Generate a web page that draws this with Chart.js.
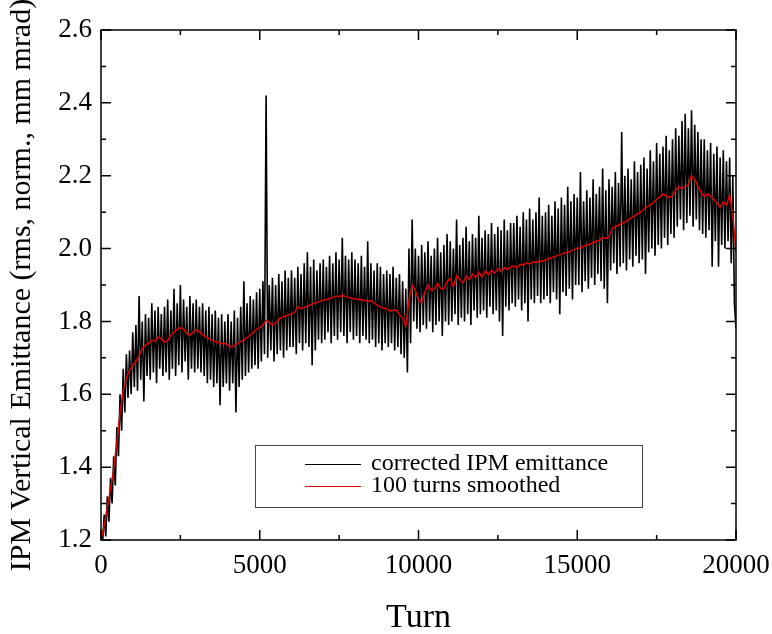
<!DOCTYPE html>
<html>
<head>
<meta charset="utf-8">
<script src="https://cdn.jsdelivr.net/npm/chart.js@4.4.1/dist/chart.umd.min.js"></script>
<style>
  html, body { margin: 0; padding: 0; background: #fff; }
  #wrap { width: 772px; height: 634px; }
</style>
</head>
<body>
<div id="wrap"><canvas id="emitChart" width="772" height="634"></canvas></div>
<script>
// raw IPM emittance, one value every 50 turns (peak / dip pairs)
var rawStep = 50;
var emittance = [
    1.23,1.19, 1.27,1.21, 1.32,1.25, 1.37,1.30, 1.43,1.35, 1.51,1.43, 1.60,1.50, 1.67,1.55, 1.71,1.59, 1.72,1.60,
    1.77,1.62, 1.79,1.61, 1.87,1.64, 1.80,1.58, 1.82,1.65, 1.81,1.64, 1.85,1.66, 1.83,1.63, 1.84,1.67, 1.82,1.65,
    1.84,1.66, 1.86,1.64, 1.83,1.67, 1.89,1.65, 1.85,1.68, 1.90,1.66, 1.86,1.69, 1.84,1.64, 1.87,1.67, 1.85,1.66,
    1.86,1.67, 1.84,1.66, 1.85,1.65, 1.83,1.63, 1.84,1.64, 1.82,1.62, 1.83,1.63, 1.81,1.57, 1.82,1.62, 1.80,1.63,
    1.82,1.61, 1.80,1.63, 1.83,1.55, 1.81,1.62, 1.84,1.64, 1.91,1.65, 1.85,1.66, 1.87,1.67, 1.86,1.68, 1.88,1.67,
    1.89,1.69, 1.91,1.71, 2.42,1.70, 1.90,1.72, 1.92,1.69, 1.90,1.71, 1.93,1.72, 1.91,1.70, 1.94,1.72, 1.92,1.73,
    1.94,1.73, 1.92,1.71, 1.95,1.74, 1.93,1.72, 1.96,1.74, 1.99,1.73, 1.95,1.68, 1.97,1.72, 1.94,1.75, 1.96,1.74,
    1.97,1.75, 1.95,1.77, 1.98,1.74, 1.96,1.76, 1.99,1.75, 1.97,1.77, 2.03,1.76, 1.98,1.74, 1.97,1.77, 1.99,1.75,
    1.97,1.76, 1.96,1.74, 1.98,1.76, 1.95,1.75, 2.02,1.74, 1.96,1.75, 1.94,1.73, 1.96,1.74, 1.95,1.72, 1.93,1.74,
    1.94,1.73, 1.93,1.74, 1.95,1.72, 1.92,1.73, 1.93,1.71, 1.91,1.70, 1.89,1.66, 2.00,1.74, 2.08,1.80, 2.00,1.78,
    1.98,1.77, 2.01,1.79, 1.99,1.78, 2.02,1.80, 1.98,1.77, 2.00,1.79, 2.03,1.80, 1.99,1.76, 2.01,1.80, 2.04,1.79,
    2.02,1.80, 2.00,1.82, 2.08,1.79, 2.01,1.81, 2.03,1.80, 2.06,1.82, 2.02,1.79, 2.04,1.83, 2.03,1.81, 2.09,1.82,
    2.03,1.83, 2.05,1.81, 2.04,1.84, 2.07,1.82, 2.04,1.83, 2.06,1.80, 2.05,1.76, 2.08,1.84, 2.05,1.83, 2.07,1.85,
    2.07,1.84, 2.09,1.86, 2.06,1.83, 2.10,1.85, 2.08,1.80, 2.11,1.86, 2.08,1.85, 2.10,1.87, 2.14,1.85, 2.09,1.86,
    2.10,1.87, 2.12,1.85, 2.09,1.88, 2.13,1.86, 2.11,1.82, 2.14,1.88, 2.12,1.87, 2.17,1.89, 2.13,1.86, 2.15,1.90,
    2.14,1.90, 2.21,1.88, 2.13,1.91, 2.16,1.89, 2.14,1.92, 2.19,1.90, 2.15,1.93, 2.17,1.91, 2.22,1.89, 2.16,1.85,
    2.19,1.94, 2.17,1.96, 2.21,1.93, 2.18,1.95, 2.32,1.96, 2.20,1.94, 2.22,1.97, 2.19,1.95, 2.24,1.98, 2.21,1.96,
    2.23,1.97, 2.25,1.93, 2.22,1.99, 2.27,2.00, 2.24,1.98, 2.29,2.01, 2.26,2.00, 2.28,2.03, 2.31,2.01, 2.27,2.04,
    2.30,2.03, 2.33,2.06, 2.31,2.08, 2.35,2.05, 2.37,2.07, 2.33,2.09, 2.38,2.06, 2.34,2.08, 2.32,2.05, 2.30,2.04,
    2.30,2.03, 2.27,2.05, 2.29,1.95, 2.26,2.02, 2.28,1.95, 2.25,2.01, 2.27,2.00, 2.24,2.02, 2.25,1.96, 2.20,1.85,
    1.78
];

// 100 turns smoothed, one value every 100 turns
var smoothStep = 100;
var smoothed = [
    1.20, 1.24, 1.29, 1.34, 1.395, 1.47, 1.55, 1.61, 1.645, 1.665,
    1.68, 1.69, 1.705, 1.725, 1.735, 1.74, 1.748, 1.745, 1.757, 1.752,
    1.743, 1.748, 1.762, 1.771, 1.778, 1.783, 1.778, 1.768, 1.762, 1.77,
    1.777, 1.772, 1.764, 1.758, 1.753, 1.748, 1.745, 1.742, 1.739, 1.74,
    1.735, 1.73, 1.733, 1.74, 1.745, 1.748, 1.756, 1.762, 1.77, 1.778,
    1.782, 1.79, 1.803, 1.798, 1.79, 1.795, 1.805, 1.812, 1.815, 1.818,
    1.82, 1.825, 1.84, 1.835, 1.838, 1.842, 1.845, 1.85, 1.852, 1.855,
    1.858, 1.86, 1.862, 1.866, 1.87, 1.868, 1.872, 1.868, 1.866, 1.864,
    1.862, 1.86, 1.86, 1.858, 1.855, 1.857, 1.85, 1.845, 1.84, 1.836,
    1.835, 1.828, 1.83, 1.832, 1.818, 1.81, 1.787, 1.86, 1.90, 1.885,
    1.858, 1.852, 1.88, 1.90, 1.885, 1.89, 1.905, 1.89, 1.89, 1.91,
    1.918, 1.895, 1.925, 1.915, 1.905, 1.925, 1.915, 1.93, 1.92, 1.935,
    1.922, 1.938, 1.928, 1.94, 1.932, 1.945, 1.938, 1.948, 1.942, 1.95,
    1.952, 1.948, 1.957, 1.955, 1.96, 1.958, 1.963, 1.962, 1.966, 1.965,
    1.968, 1.972, 1.975, 1.978, 1.982, 1.984, 1.988, 1.99, 1.993, 1.997,
    2.0, 2.002, 2.006, 2.01, 2.012, 2.016, 2.02, 2.022, 2.03, 2.028,
    2.032, 2.055, 2.06, 2.064, 2.07, 2.072, 2.078, 2.084, 2.09, 2.095,
    2.10, 2.108, 2.115, 2.12, 2.126, 2.135, 2.142, 2.15, 2.145, 2.14,
    2.145, 2.16, 2.17, 2.165, 2.17, 2.175, 2.20, 2.19, 2.17, 2.155,
    2.142, 2.15, 2.145, 2.135, 2.125, 2.114, 2.128, 2.12, 2.146, 2.09,
    1.99
];

var seriesNames = ['corrected IPM emittance', '100 turns smoothed'];
var xRange = [0, 20000];
var yRange = [1.2, 2.6];

var serif = 'Liberation Serif, "Times New Roman", serif';

// frame with inward ticks on all four sides, plus the boxed legend
var frameAndLegend = {
    id: 'frameAndLegend',
    afterDraw: function (chart) {
        var ctx = chart.ctx;
        var a = chart.chartArea;
        var x = chart.scales.x, y = chart.scales.y;
        ctx.save();
        ctx.strokeStyle = '#000';
        ctx.lineWidth = 1.5;
        ctx.strokeRect(a.left, a.top, a.right - a.left, a.bottom - a.top);

        ctx.beginPath();
        for (var t = xRange[0]; t <= xRange[1]; t += 2500) {
            var px = x.getPixelForValue(t);
            var len = (t % 5000 === 0) ? 10 : 5;
            ctx.moveTo(px, a.bottom); ctx.lineTo(px, a.bottom - len);
            ctx.moveTo(px, a.top); ctx.lineTo(px, a.top + len);
        }
        for (var k = 0; k <= 14; k++) {
            var py = y.getPixelForValue(yRange[0] + k * 0.1);
            var l2 = (k % 2 === 0) ? 10 : 5;
            ctx.moveTo(a.left, py); ctx.lineTo(a.left + l2, py);
            ctx.moveTo(a.right, py); ctx.lineTo(a.right - l2, py);
        }
        ctx.stroke();

        // legend box
        var bx = 255, by = 445, bw = 387, bh = 62;
        ctx.fillStyle = '#fff';
        ctx.fillRect(bx, by, bw, bh);
        ctx.lineWidth = 1;
        ctx.strokeStyle = '#444';
        ctx.strokeRect(bx + 0.5, by + 0.5, bw, bh);

        var rows = [464, 486];
        ctx.font = '24px ' + serif;
        ctx.textBaseline = 'middle';
        ctx.textAlign = 'left';
        chart.data.datasets.forEach(function (ds, i) {
            ctx.strokeStyle = ds.borderColor;
            ctx.lineWidth = 1;
            ctx.beginPath();
            ctx.moveTo(305, rows[i] + 0.5);
            ctx.lineTo(361, rows[i] + 0.5);
            ctx.stroke();
            ctx.fillStyle = '#000';
            ctx.fillText(ds.label, 371, rows[i]);
        });
        ctx.restore();
    }
};

new Chart(document.getElementById('emitChart'), {
    type: 'line',
    data: {
        datasets: [{
            label: seriesNames[0],
            data: emittance.map(function (v, i) { return { x: i * rawStep, y: v }; }),
            borderColor: '#000',
            borderWidth: 1.6,
            pointRadius: 0,
            tension: 0,
            order: 1
        }, {
            label: seriesNames[1],
            data: smoothed.map(function (v, i) { return { x: i * smoothStep, y: v }; }),
            borderColor: 'rgb(228, 0, 0)',
            borderWidth: 1.5,
            pointRadius: 0,
            tension: 0,
            order: 0
        }]
    },
    plugins: [frameAndLegend],
    options: {
        responsive: false,
        animation: false,
        layout: { padding: { top: 30, right: 36, left: 0, bottom: 0 } },
        plugins: {
            legend: { display: false },
            tooltip: { enabled: false }
        },
        scales: {
            x: {
                type: 'linear',
                min: xRange[0],
                max: xRange[1],
                afterFit: function (scale) {
                    scale.height = 94;
                    scale.paddingLeft = 0;
                    scale.paddingRight = 0;
                },
                grid: { display: false, drawTicks: false },
                border: { display: false },
                ticks: {
                    stepSize: 5000,
                    padding: 10,
                    color: '#000',
                    maxRotation: 0,
                    font: { family: serif, size: 27 },
                    callback: function (v) { return String(v); }
                },
                title: {
                    display: true,
                    text: 'Turn',
                    color: '#000',
                    font: { family: serif, size: 34 },
                    padding: { top: 0, bottom: -4 }
                }
            },
            y: {
                type: 'linear',
                min: yRange[0],
                max: yRange[1],
                afterFit: function (scale) {
                    scale.width = 101;
                    scale.paddingTop = 0;
                    scale.paddingBottom = 0;
                },
                grid: { display: false, drawTicks: false },
                border: { display: false },
                ticks: {
                    stepSize: 0.2,
                    padding: 9,
                    color: '#000',
                    font: { family: serif, size: 27 },
                    callback: function (v) { return v.toFixed(1); }
                },
                title: {
                    display: true,
                    text: 'IPM Vertical Emittance (rms, norm., mm mrad)',
                    color: '#000',
                    font: { family: serif, size: 30 },
                    padding: { top: 4, bottom: 0 }
                }
            }
        }
    }
});
</script>
</body>
</html>
